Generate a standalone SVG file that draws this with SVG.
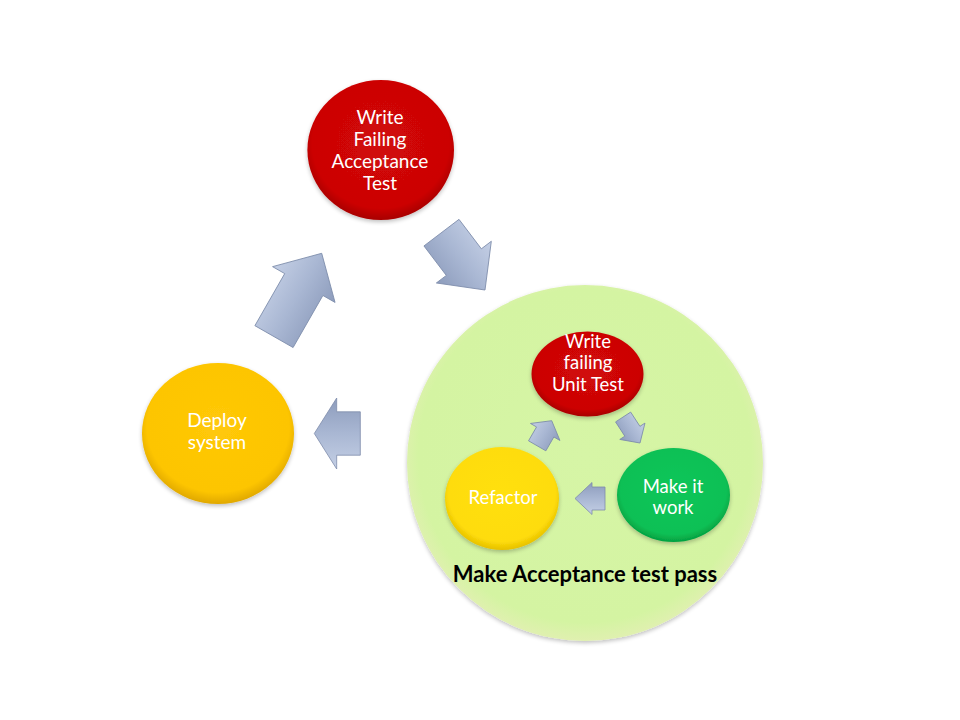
<svg xmlns="http://www.w3.org/2000/svg" width="960" height="720" viewBox="0 0 960 720">
<style>
.t{font-family:Lato,"Open Sans","Liberation Sans",sans-serif;fill:#ffffff;text-anchor:middle}
.big{font-size:19px}
.small{font-size:18.5px}
.lbl{font-family:Lato,"Open Sans","Liberation Sans",sans-serif;font-weight:bold;font-size:22px;fill:#000;text-anchor:middle}
.arr{fill:url(#gArr);stroke:#7d8cab;stroke-width:0.8;stroke-linejoin:miter}
</style>
<defs>
<radialGradient id="gRed" cx="50%" cy="45%" r="55%">
<stop offset="0" stop-color="#d10808"/>
<stop offset="0.85" stop-color="#cc0505"/>
<stop offset="1" stop-color="#a80000"/>
</radialGradient>
<radialGradient id="gGold" cx="50%" cy="45%" r="55%">
<stop offset="0" stop-color="#ffc808"/>
<stop offset="0.85" stop-color="#fdc502"/>
<stop offset="1" stop-color="#e0a800"/>
</radialGradient>
<radialGradient id="gYel" cx="50%" cy="45%" r="55%">
<stop offset="0" stop-color="#ffe010"/>
<stop offset="0.85" stop-color="#fedc0a"/>
<stop offset="1" stop-color="#e6c000"/>
</radialGradient>
<radialGradient id="gGrn" cx="50%" cy="45%" r="55%">
<stop offset="0" stop-color="#10c65a"/>
<stop offset="0.85" stop-color="#0cc055"/>
<stop offset="1" stop-color="#04a040"/>
</radialGradient>
<radialGradient id="gLime" cx="50%" cy="48%" r="52%">
<stop offset="0" stop-color="#d6f5a6"/>
<stop offset="0.9" stop-color="#d4f4a2"/>
<stop offset="1" stop-color="#e0f0b0"/>
</radialGradient>
<linearGradient id="gArr" x1="0" y1="0" x2="0" y2="1">
<stop offset="0" stop-color="#c4cfe5"/>
<stop offset="0.5" stop-color="#a9b7d3"/>
<stop offset="1" stop-color="#8d9cbc"/>
</linearGradient>
<filter id="sh" x="-10%" y="-10%" width="120%" height="125%">
<feGaussianBlur in="SourceAlpha" stdDeviation="2"/>
<feOffset dx="0" dy="2" result="b"/>
<feComponentTransfer><feFuncA type="linear" slope="0.25"/></feComponentTransfer>
<feMerge><feMergeNode/><feMergeNode in="SourceGraphic"/></feMerge>
</filter>
</defs>
<rect width="960" height="720" fill="#ffffff"/>

<g id="outer-acceptance">
<circle cx="585" cy="463" r="178" fill="url(#gLime)" filter="url(#sh)"/>
</g>

<g id="write-failing-acceptance-test">
<ellipse cx="380.7" cy="150" rx="73.3" ry="70" fill="url(#gRed)" filter="url(#sh)"/>
<text class="t big" x="380" y="124">Write</text>
<text class="t big" x="380" y="146">Failing</text>
<text class="t big" x="380" y="168">Acceptance</text>
<text class="t big" x="380" y="190">Test</text>
</g>

<g id="deploy-system">
<ellipse cx="218" cy="433.5" rx="76" ry="70.5" fill="url(#gGold)" filter="url(#sh)"/>
<text class="t big" x="217" y="427">Deploy</text>
<text class="t big" x="217" y="449">system</text>
</g>

<g id="write-failing-unit-test">
<ellipse cx="587.5" cy="374" rx="56" ry="42.5" fill="url(#gRed)" filter="url(#sh)"/>
<text class="t small" x="588" y="348">Write</text>
<text class="t small" x="588" y="369">failing</text>
<text class="t small" x="588" y="390.5">Unit Test</text>
</g>

<g id="refactor">
<ellipse cx="502" cy="498.5" rx="57" ry="51.5" fill="url(#gYel)" filter="url(#sh)"/>
<text class="t small" x="503" y="504">Refactor</text>
</g>

<g id="make-it-work">
<ellipse cx="673.5" cy="495" rx="56.5" ry="47" fill="url(#gGrn)" filter="url(#sh)"/>
<text class="t small" x="673" y="492.5">Make it</text>
<text class="t small" x="673" y="514">work</text>
</g>

<g id="label">
<text class="lbl" x="585" y="582">Make Acceptance test pass</text>
</g>

<g id="connectors">
<polygon class="arr" transform="translate(321.7,253.3) rotate(-60.2)" points="-96,-22 -36,-22 -36,-36 0,0 -36,36 -36,22 -96,22"/>
<polygon class="arr" transform="translate(485,290) rotate(52.8)" points="-72,-22 -35,-22 -35,-34.5 0,0 -35,34.5 -35,22 -72,22"/>
<polygon class="arr" transform="translate(314.3,433.5) rotate(180)" points="-46,-21.7 -22.4,-21.7 -22.4,-35.5 0,0 -22.4,35.5 -22.4,21.7 -46,21.7"/>
<polygon class="arr" transform="translate(551.7,420.7) rotate(-60)" points="-29,-10 -13,-10 -13,-17 0,0 -13,17 -13,10 -29,10"/>
<polygon class="arr" transform="translate(640,443) rotate(57)" points="-31,-9 -14,-9 -14,-15 0,0 -14,15 -14,9 -31,9"/>
<polygon class="arr" transform="translate(575,498.5) rotate(180)" points="-30,-11.5 -17,-11.5 -17,-16 0,0 -17,16 -17,11.5 -30,11.5"/>
</g>
</svg>
